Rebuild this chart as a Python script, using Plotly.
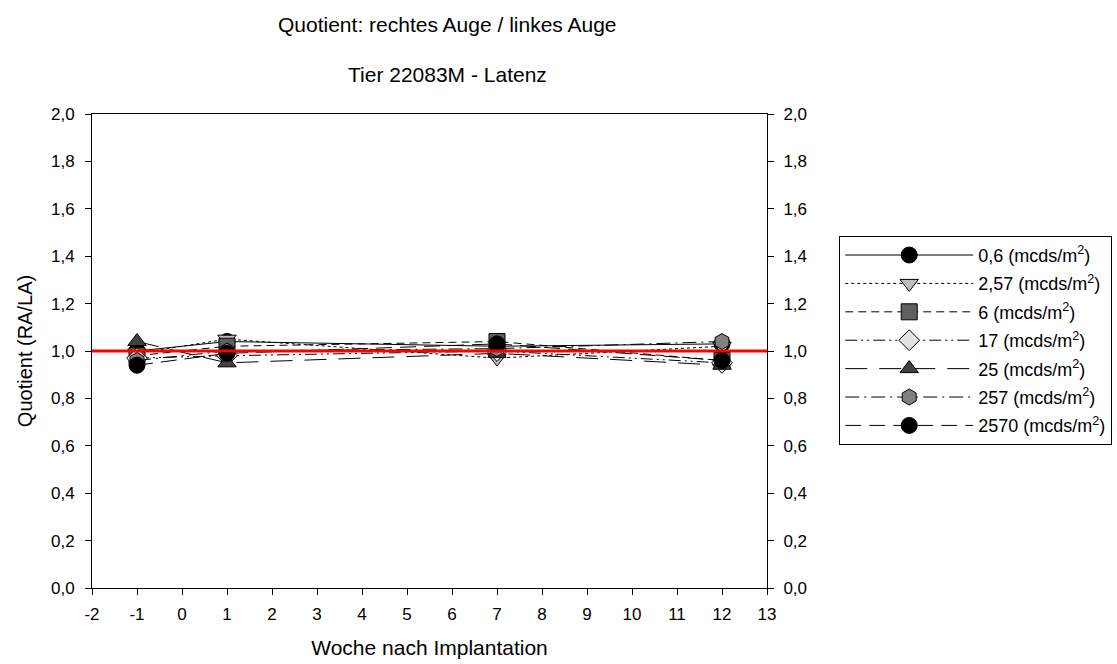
import plotly.graph_objects as go

# Weeks after implantation
weeks = [-1, 1, 7, 12]

# Ratio right eye / left eye (latency) per stimulus intensity
q_0_6 = [1.00, 1.04, 1.02, 1.03]
q_2_57 = [0.99, 1.05, 0.97, 1.02]
q_6 = [0.98, 1.02, 1.04, 0.96]
q_17 = [0.97, 0.98, 1.00, 0.95]
q_25 = [1.04, 0.95, 0.99, 0.94]
q_257 = [0.96, 1.00, 1.01, 1.04]
q_2570 = [0.94, 0.99, 1.03, 0.96]

series_names = ["0,6", "2,57", "6", "17", "25", "257", "2570"]
series_values = [q_0_6, q_2_57, q_6, q_17, q_25, q_257, q_2570]

reference_level = 1.0
x_range = [-2, 13]
y_range = [0, 2]
x_tick_values = list(range(-2, 14))
x_tick_labels = ["-2", "-1", "0", "1", "2", "3", "4", "5", "6", "7",
                 "8", "9", "10", "11", "12", "13"]
y_tick_values = [0.0, 0.2, 0.4, 0.6, 0.8, 1.0, 1.2, 1.4, 1.6, 1.8, 2.0]

FONT = "Arial, 'Liberation Sans', sans-serif"

styles = [
    dict(symbol="circle", fill="#000000", dash="solid"),
    dict(symbol="triangle-down", fill="#bdbdbd", dash="dot"),
    dict(symbol="square", fill="#5f5f5f", dash="8px,5px"),
    dict(symbol="diamond", fill="#e2e2e2", dash="12px,4px,2px,4px,2px,4px"),
    dict(symbol="triangle-up", fill="#404040", dash="22px,12px"),
    dict(symbol="hexagon", fill="#808080", dash="14px,5px,2px,5px"),
    dict(symbol="circle", fill="#000000", dash="16px,8px"),
]

fig = go.Figure()
for i, (name, vals, st) in enumerate(zip(series_names, series_values, styles)):
    fig.add_trace(go.Scatter(
        x=weeks, y=vals, mode="lines+markers",
        name=f"{name} (mcds/m<sup>2</sup>)",
        legendgroup=f"g{i}",
        line=dict(color="black", width=1, dash=st["dash"]),
        marker=dict(symbol=st["symbol"], size=16, color=st["fill"],
                    line=dict(color="black", width=1)),
        yaxis="y",
    ))

# Red reference line at ratio 1, drawn on the right-hand axis (on top)
fig.add_trace(go.Scatter(
    x=x_range, y=[reference_level, reference_level], mode="lines",
    line=dict(color="#ff0000", width=3), showlegend=False,
    hoverinfo="skip", yaxis="y2",
))

axis_common = dict(
    showgrid=False, zeroline=False, showline=True, linecolor="black",
    linewidth=1, ticks="outside", ticklen=6, tickcolor="black",
    automargin=False,
    tickfont=dict(family=FONT, size=17, color="black"),
)

fig.update_layout(
    width=1117, height=664,
    margin=dict(l=92, r=350, t=114, b=76, autoexpand=False),
    paper_bgcolor="white", plot_bgcolor="white",
    separators=",.",
    font=dict(family=FONT, color="black"),
    xaxis=dict(
        range=x_range, tickvals=x_tick_values, ticktext=x_tick_labels,
        mirror=True, ticklabelstandoff=5,
        title=dict(text="Woche nach Implantation", standoff=16,
                   font=dict(family=FONT, size=21)),
        **axis_common,
    ),
    yaxis=dict(
        range=y_range, tickvals=y_tick_values, tickformat=".1f",
        ticklabelstandoff=7,
        title=dict(text="Quotient (RA/LA)", standoff=12,
                   font=dict(family=FONT, size=20)),
        **axis_common,
    ),
    yaxis2=dict(
        range=y_range, tickvals=y_tick_values, tickformat=".1f",
        overlaying="y", side="right", ticklabelstandoff=6, **axis_common,
    ),
    legend=dict(
        x=1.107, y=0.743, xanchor="left", yanchor="top",
        bordercolor="black", borderwidth=1, bgcolor="white",
        font=dict(family=FONT, size=18, color="black"),
        itemwidth=128, tracegroupgap=2,
    ),
    annotations=[
        dict(text="Quotient: rechtes Auge / linkes Auge", xref="paper", yref="paper",
             x=0.527, y=1.188, xanchor="center", yanchor="middle", showarrow=False,
             font=dict(family=FONT, size=21)),
        dict(text="Tier 22083M - Latenz", xref="paper", yref="paper",
             x=0.527, y=1.084, xanchor="center", yanchor="middle", showarrow=False,
             font=dict(family=FONT, size=21)),
    ],
)

fig.write_html("out.html")
